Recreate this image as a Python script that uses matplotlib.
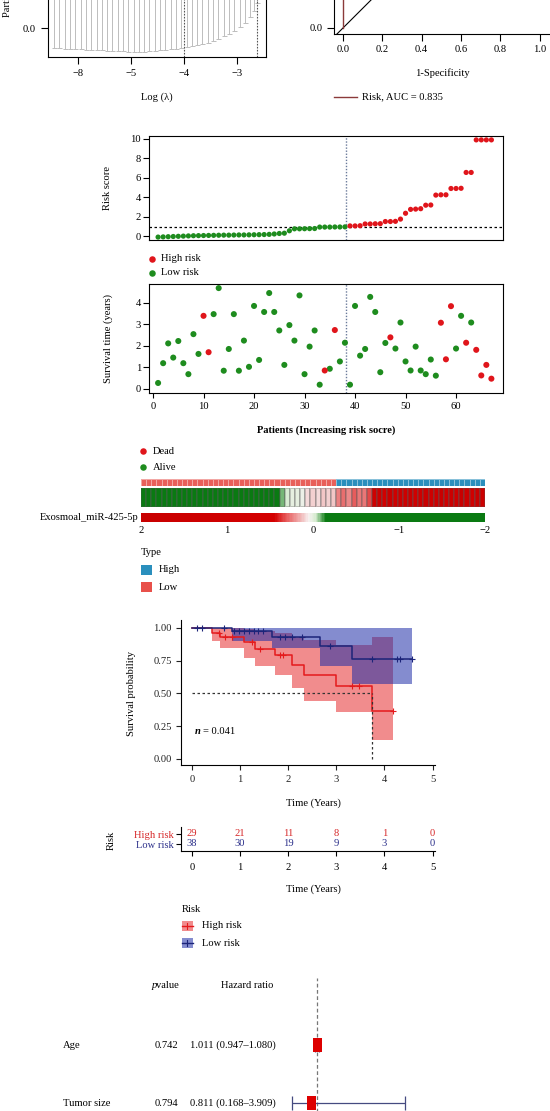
import numpy as np
import matplotlib
matplotlib.use('Agg')
import matplotlib.pyplot as plt
from matplotlib.colors import LinearSegmentedColormap, ListedColormap, Normalize
from matplotlib.cm import ScalarMappable
from matplotlib.lines import Line2D
from matplotlib.patches import Rectangle
from matplotlib.path import Path

# ---------------- DATA ----------------
lasso_loglam = [-6.45, -6.35, -6.25, -6.15, -6.05, -5.95, -5.85, -5.75, -5.65, -5.55,
                -5.45, -5.35, -5.25, -5.15, -5.05, -4.95, -4.85, -4.75, -4.65, -4.55,
                -4.45, -4.35, -4.25, -4.15, -4.05, -3.95, -3.85, -3.75, -3.65, -3.55,
                -3.45, -3.35, -3.25, -3.15, -3.05, -2.95, -2.85, -2.75, -2.68, -2.62]
cv_lower = [-0.20, -0.20, -0.205, -0.205, -0.21, -0.21, -0.215, -0.215, -0.22, -0.22,
            -0.225, -0.225, -0.23, -0.23, -0.235, -0.235, -0.237, -0.235, -0.23, -0.225,
            -0.22, -0.215, -0.21, -0.205, -0.20, -0.19, -0.18, -0.17, -0.16, -0.145,
            -0.125, -0.105, -0.08, -0.06, -0.03, 0.01, 0.05, 0.11, 0.17, 0.25]
cv_mean = [0.52, 0.52, 0.51, 0.51, 0.50, 0.50, 0.50, 0.49, 0.49, 0.49,
           0.48, 0.48, 0.48, 0.47, 0.47, 0.47, 0.47, 0.47, 0.47, 0.48,
           0.48, 0.48, 0.49, 0.49, 0.50, 0.51, 0.52, 0.53, 0.54, 0.56,
           0.58, 0.60, 0.62, 0.65, 0.68, 0.72, 0.76, 0.81, 0.86, 0.92]
cv_upper = [1.24, 1.24, 1.22, 1.22, 1.21, 1.21, 1.21, 1.20, 1.20, 1.20,
            1.19, 1.19, 1.18, 1.17, 1.17, 1.17, 1.17, 1.17, 1.17, 1.18,
            1.18, 1.18, 1.19, 1.19, 1.20, 1.21, 1.22, 1.23, 1.24, 1.26,
            1.28, 1.30, 1.32, 1.35, 1.38, 1.42, 1.46, 1.51, 1.56, 1.62]
lasso_lambda_min = -4.0
lasso_lambda_1se = -2.62
lasso_xticks = [-6, -5, -4, -3]
lasso_xtick_labels = ['\u22128', '\u22125', '\u22124', '\u22123']

roc_fpr = [0.0, 0.0, 0.03, 0.03, 0.10, 0.10, 0.30, 0.30, 1.0]
roc_tpr = [0.0, 0.45, 0.45, 0.60, 0.60, 0.80, 0.80, 1.0, 1.0]
roc_auc_label = 'Risk, AUC = 0.835'

risk_score = [-0.10, -0.08, -0.06, -0.04, -0.02, 0.0, 0.02, 0.04, 0.05, 0.06,
              0.07, 0.08, 0.09, 0.10, 0.10, 0.11, 0.12, 0.12, 0.13, 0.14,
              0.15, 0.16, 0.18, 0.22, 0.27, 0.30, 0.55, 0.75, 0.75, 0.76,
              0.77, 0.78, 0.93, 0.93, 0.93, 0.94, 0.94, 0.95,
              1.05, 1.05, 1.07, 1.25, 1.25, 1.27, 1.28, 1.50, 1.50, 1.52,
              1.75, 2.35, 2.75, 2.78, 2.82, 3.18, 3.20, 4.22, 4.25, 4.25,
              4.90, 4.90, 4.92, 6.55, 6.55, 9.90, 9.90, 9.90, 9.90]
risk_cutoff = 0.97
risk_split = 38.2

surv_time = [0.28, 1.20, 2.12, 1.46, 2.23, 1.20, 0.69, 2.55, 1.63, 3.40,
             1.71, 3.48, 4.69, 0.85, 1.86, 3.48, 0.85, 2.25, 1.03, 3.86,
             1.35, 3.58, 4.46, 3.58, 2.72, 1.12, 2.97, 2.25, 4.35, 0.69,
             1.97, 2.72, 0.20, 0.86, 0.94, 2.74, 1.28, 2.15, 0.20, 3.86,
             1.55, 1.86, 4.28, 3.58, 0.78, 2.14, 2.40, 1.88, 3.09, 1.28,
             0.86, 1.97, 0.86, 0.69, 1.37, 0.62, 3.08, 1.38, 3.85, 1.88,
             3.40, 2.15, 3.09, 1.82, 0.63, 1.12, 0.48]
surv_status = [0, 0, 0, 0, 0, 0, 0, 0, 0, 1,
               1, 0, 0, 0, 0, 0, 0, 0, 0, 0,
               0, 0, 0, 0, 0, 0, 0, 0, 0, 0,
               0, 0, 0, 1, 0, 1, 0, 0, 0, 0,
               0, 0, 0, 0, 0, 0, 1, 0, 0, 0,
               0, 0, 0, 0, 0, 0, 1, 1, 1, 0,
               0, 1, 0, 1, 1, 1, 1]
expression = [-1.6, -1.8, -1.5, -1.7, -1.9, -1.6, -1.4, -1.8, -1.7, -1.5,
              -1.6, -1.9, -1.7, -1.5, -1.8, -1.6, -1.4, -1.7, -1.6, -1.8,
              -1.5, -1.7, -1.6, -1.9, -1.5, -1.4, -1.2, -0.09,
              -0.02, 0.0, 0.01, 0.03,
              0.09, 0.10, 0.08, 0.11, 0.10, 0.12,
              0.24, 0.28, 0.22, 0.30, 0.26, 0.25, 0.33,
              1.2, 1.5, 0.9, 1.8, 1.1, 1.6, 1.3, 1.9, 1.0, 1.4, 1.7,
              1.2, 1.5, 1.8, 1.1, 1.6, 1.3, 1.9, 1.4, 1.0, 1.7, 1.5]
gene_name = 'Exosmoal_miR-425-5p'
cbar_ticks = [2, 1, 0, -1, -2]

km_high_t = [0, 0.41, 0.58, 1.07, 1.31, 1.73, 2.07, 2.32, 2.99, 3.73, 4.17]
km_high_s = [1, 0.965, 0.93, 0.89, 0.84, 0.79, 0.72, 0.64, 0.555, 0.37, 0.37]
km_high_lo = [1, 0.90, 0.85, 0.77, 0.71, 0.64, 0.54, 0.44, 0.36, 0.145, 0.145]
km_high_hi = [1, 1.0, 1.0, 0.99, 0.98, 0.96, 0.93, 0.91, 0.87, 0.93, 0.93]
km_high_cens = [0.55, 0.69, 0.82, 1.24, 1.41, 1.83, 1.90, 3.32, 3.46, 4.17]
km_low_t = [0, 0.82, 1.66, 2.66, 3.32, 4.57]
km_low_s = [1, 0.975, 0.93, 0.86, 0.765, 0.765]
km_low_lo = [1, 0.90, 0.85, 0.71, 0.57, 0.57]
km_low_hi = [1, 1, 1, 1, 1, 1]
km_low_cens = [0.10, 0.20, 0.66, 0.88, 0.98, 1.08, 1.18, 1.28, 1.38, 1.48,
               1.83, 1.93, 2.07, 2.28, 2.87, 3.73, 4.25, 4.32, 4.57]
km_high_median = 3.73
km_pvalue_text = '= 0.041'

table_times = [0, 1, 2, 3, 4, 5]
table_high = [29, 21, 11, 8, 1, 0]
table_low = [38, 30, 19, 9, 3, 0]

forest_vars = ['Age', 'Tumor size']
forest_p = ['0.742', '0.794']
forest_hr_text = ['1.011 (0.947\u20131.080)', '0.811 (0.168\u20133.909)']
forest_hr = [1.011, 0.811]
forest_lo = [0.947, 0.168]
forest_hi = [1.080, 3.909]

# ---------------- STYLE ----------------
plt.rcParams['font.family'] = ['Liberation Serif', 'DejaVu Serif']
plt.rcParams['font.size'] = 7.6
plt.rcParams['axes.linewidth'] = 0.8
plt.rcParams['xtick.major.width'] = 0.8
plt.rcParams['ytick.major.width'] = 0.8
plt.rcParams['axes.unicode_minus'] = True

RED = '#E0151B'
GREEN = '#1E8C1E'
KM_RED = '#E41A1C'
KM_BLUE = '#1C2479'

W, H = 550, 1111
fig = plt.figure(figsize=(W / 100, H / 100), dpi=100)


def add_ax(x0, y0, x1, y1):
    return fig.add_axes([x0 / W, 1 - y1 / H, (x1 - x0) / W, (y1 - y0) / H])


def ftext(x, y, s, **kw):
    return fig.text(x / W, 1 - y / H, s, **kw)


def fline(x0, y0, x1, y1, **kw):
    fig.add_artist(Line2D([x0 / W, x1 / W], [1 - y0 / H, 1 - y1 / H],
                          transform=fig.transFigure, **kw))


def frect(x0, y0, w, h, **kw):
    fig.add_artist(Rectangle((x0 / W, 1 - (y0 + h) / H), w / W, h / H,
                             transform=fig.transFigure, **kw))


def fdot(x, y, color, size=6.5):
    fig.add_artist(Line2D([x / W], [1 - y / H], marker='o', ms=size * 0.72,
                          color=color, mec='none', transform=fig.transFigure))


# ---------------- Panel 1: LASSO CV ----------------
ax1 = add_ax(48, -163, 266, 57)
lam = np.array(lasso_loglam)
lo = np.array(cv_lower)
mn = np.array(cv_mean)
up = np.array(cv_upper)
ax1.errorbar(lam, mn, yerr=[mn - lo, up - mn], fmt='o', ms=2.5, color='#bdbdbd',
             ecolor='#bdbdbd', elinewidth=0.7, capsize=1.8, capthick=0.7)
ax1.axvline(lasso_lambda_min, ls=(0, (1.5, 1.2)), color='#555555', lw=0.8)
ax1.axvline(lasso_lambda_1se, ls=(0, (1.5, 1.2)), color='#555555', lw=0.8)
ax1.set_xlim(-6.566, -2.45)
ax1.set_ylim(-0.29, 1.91)
ax1.set_xticks(lasso_xticks)
ax1.set_xticklabels(lasso_xtick_labels)
ax1.set_yticks([0])
ax1.set_yticklabels(['0.0'])
ax1.tick_params(direction='out', length=5, pad=4)
ftext(7.5, 17, 'Partial likelihood deviance', rotation=90, ha='center', va='bottom')
ftext(157, 97, 'Log (\u03bb)', ha='center', va='center')

# ---------------- Panel 2: ROC ----------------
ax2 = add_ax(334, -176, 550, 34)
ax2.axline((0, 0), slope=1, color='black', lw=0.8)
ax2.plot(roc_fpr, roc_tpr, color='#8B3A3A', lw=1.0)
ax2.set_xlim(-0.046, 1.053)
ax2.set_ylim(-0.031, 1.04)
ax2.set_xticks([0, 0.2, 0.4, 0.6, 0.8, 1.0])
ax2.set_xticklabels(['0.0', '0.2', '0.4', '0.6', '0.8', '1.0'])
ax2.set_yticks([0])
ax2.set_yticklabels(['0.0'])
ax2.spines['top'].set_visible(False)
ax2.spines['right'].set_visible(False)
ax2.tick_params(direction='out', length=5, pad=3)
ftext(442, 73, '1-Specificity', ha='center', va='center')
fline(334, 97, 357, 97, color='#8B3A3A', lw=1.0)
ftext(362, 97, roc_auc_label, ha='left', va='center')

# ---------------- Panel 3: risk score ----------------
n_pat = len(risk_score)
pat = np.arange(1, n_pat + 1)
rs = np.array(risk_score)
high = rs > risk_cutoff
ax3 = add_ax(149, 136, 503, 240)
ax3.scatter(pat[~high], rs[~high], s=14, color=GREEN, edgecolors='none', zorder=3)
ax3.scatter(pat[high], rs[high], s=14, color=RED, edgecolors='none', zorder=3)
ax3.axhline(risk_cutoff, ls=(0, (2, 2)), color='black', lw=0.9)
ax3.axvline(risk_split, ls=(0, (1, 1.2)), color='#6a7a9a', lw=1.0)
ax3.set_xlim(-0.8, 69.3)
ax3.set_ylim(-0.4, 10.3)
ax3.set_xticks([])
ax3.set_yticks([0, 2, 4, 6, 8, 10])
ax3.tick_params(direction='out', length=4.3, pad=1.5)
ftext(108, 188, 'Risk score', rotation=90, ha='center', va='center')

fdot(152, 259, RED)
ftext(161, 259, 'High risk', va='center')
fdot(152, 273, GREEN)
ftext(161, 273, 'Low risk', va='center')

# ---------------- Panel 4: survival status ----------------
st = np.array(surv_time)
dead = np.array(surv_status) == 1
ax4 = add_ax(149, 284, 503, 393)
ax4.scatter(pat[~dead], st[~dead], s=19, color=GREEN, edgecolors='none', zorder=3)
ax4.scatter(pat[dead], st[dead], s=19, color=RED, edgecolors='none', zorder=3)
ax4.axvline(risk_split, ls=(0, (1, 1.2)), color='#6a7a9a', lw=1.0)
ax4.set_xlim(-0.8, 69.3)
ax4.set_ylim(-0.186, 4.88)
ax4.set_xticks([0, 10, 20, 30, 40, 50, 60])
ax4.set_yticks([0, 1, 2, 3, 4])
ax4.tick_params(direction='out', length=4.3, pad=1.5)
ax4.tick_params(axis='x', length=3.5, pad=3)
ftext(108, 338, 'Survival time (years)', rotation=90, ha='center', va='center')
ftext(326, 430, 'Patients (Increasing risk socre)', ha='center', va='center',
      fontweight='bold')

fdot(143, 451, RED)
ftext(153, 451, 'Dead', va='center')
fdot(143, 467, GREEN)
ftext(153, 467, 'Alive', va='center')

# ---------------- Panel 5: heatmap ----------------
edges = np.arange(0.5, n_pat + 1.5)
type_vals = np.where(high, 1, 0)[None, :]
axT = add_ax(141, 479, 485, 486)
axT.pcolormesh(edges, [0, 1], type_vals, cmap=ListedColormap(['#E8605A', '#2A8FBD']),
               vmin=0, vmax=1, edgecolors=(1, 1, 1, 0.45), linewidth=0.5)
axT.set_xlim(0.5, n_pat + 0.5)
axT.axis('off')

cmap = LinearSegmentedColormap.from_list('expr', [
    (0.0, '#0A7A12'), (0.4625, '#0A7A12'), (0.4925, '#d6ecd0'),
    (0.5125, '#f7f2f2'), (0.53, '#f2c4c4'), (0.575, '#e86060'),
    (0.6125, '#d40000'), (1.0, '#c80000')])
norm = Normalize(-2, 2)
axE = add_ax(141, 488, 485, 507)
axE.pcolormesh(edges, [0, 1], np.array(expression)[None, :], cmap=cmap, norm=norm,
               edgecolors=(0.35, 0.35, 0.35, 0.3), linewidth=0.35)
axE.set_xlim(0.5, n_pat + 0.5)
axE.axis('off')

axC = add_ax(141, 513, 485, 522)
cb = fig.colorbar(ScalarMappable(norm=norm, cmap=cmap), cax=axC, orientation='horizontal')
cb.outline.set_visible(False)
axC.invert_xaxis()
cb.set_ticks(cbar_ticks)
cb.set_ticklabels(['2', '1', '0', '\u22121', '\u22122'])
axC.tick_params(length=0, pad=3)
ftext(138, 517, gene_name, ha='right', va='center')

ftext(141, 552, 'Type', ha='left', va='center')
frect(141, 565, 11, 9.5, color='#2A8FBD', lw=0)
ftext(159, 569.5, 'High', va='center')
frect(141, 582, 11, 9.5, color='#E8504A', lw=0)
ftext(159, 587, 'Low', va='center')

# ---------------- Panel 6: Kaplan-Meier ----------------
ax6 = add_ax(181, 620, 435, 765)
ax6.fill_between(km_high_t, km_high_lo, km_high_hi, step='post', color=KM_RED,
                 alpha=0.5, lw=0)
ax6.fill_between(km_low_t, km_low_lo, km_low_hi, step='post', color='#1F2EA8',
                 alpha=0.55, lw=0)
ax6.step(km_high_t, km_high_s, where='post', color=KM_RED, lw=1.1)
ax6.step(km_low_t, km_low_s, where='post', color=KM_BLUE, lw=1.1)
ht, hs = np.array(km_high_t), np.array(km_high_s)
lt, ls_ = np.array(km_low_t), np.array(km_low_s)
hc = np.array(km_high_cens)
lc = np.array(km_low_cens)
ax6.plot(hc, hs[np.searchsorted(ht, hc, side='right') - 1], '+', color=KM_RED,
         ms=4.5, mew=0.8)
ax6.plot(lc, ls_[np.searchsorted(lt, lc, side='right') - 1], '+', color=KM_BLUE,
         ms=4.5, mew=0.8)
ax6.hlines(0.5, 0, km_high_median, colors='#333333', linestyles=(0, (2, 2)), lw=0.9)
ax6.vlines(km_high_median, 0, 0.5, colors='#333333', linestyles=(0, (2, 2)), lw=0.9)
ax6.set_xlim(-0.23, 5.05)
ax6.set_ylim(-0.046, 1.061)
ax6.set_xticks([0, 1, 2, 3, 4, 5])
ax6.set_yticks([0, 0.25, 0.5, 0.75, 1.0])
ax6.set_yticklabels(['0.00', '0.25', '0.50', '0.75', '1.00'])
ax6.spines['top'].set_visible(False)
ax6.spines['right'].set_visible(False)
ax6.tick_params(direction='out', length=3.5, pad=3, colors='#222222')
ax6.tick_params(axis='x', pad=4)
ftext(132, 693, 'Survival probability', rotation=90, ha='center', va='center')
ftext(313, 803, 'Time (Years)', ha='center', va='center')
ftext(195, 732, 'n', ha='left', va='center', fontweight='bold', fontstyle='italic')
ftext(203, 732, km_pvalue_text, ha='left', va='center')

# ---------------- Risk table ----------------
ax7 = add_ax(181, 827, 435, 851)
for t, a, b in zip(table_times, table_high, table_low):
    ax7.text(t, 2, str(a), ha='center', va='center', color='#D62728')
    ax7.text(t, 1, str(b), ha='center', va='center', color='#2B2F8A')
ax7.set_xlim(-0.23, 5.05)
ax7.set_ylim(0.3, 2.7)
ax7.set_xticks(table_times)
ax7.set_yticks([2, 1])
ax7.set_yticklabels(['High risk', 'Low risk'])
ax7.get_yticklabels()[0].set_color('#D62728')
ax7.get_yticklabels()[1].set_color('#2B2F8A')
ax7.spines['top'].set_visible(False)
ax7.spines['right'].set_visible(False)
ax7.tick_params(direction='out', length=3.5, pad=2)
ax7.tick_params(axis='x', pad=5)
ftext(111, 840, 'Risk', rotation=90, ha='center', va='center')
ftext(313, 889, 'Time (Years)', ha='center', va='center')

ftext(182, 910, 'Risk', ha='left', va='center')
frect(182, 921, 10.5, 10, color=KM_RED, alpha=0.5, lw=0)
fline(182, 926, 192.5, 926, color=KM_RED, lw=1.0)
fline(187.25, 923, 187.25, 929, color=KM_RED, lw=0.8)
ftext(202, 926, 'High risk', va='center')
frect(182, 938, 10.5, 10, color='#1F2EA8', alpha=0.55, lw=0)
fline(182, 943, 192.5, 943, color=KM_BLUE, lw=1.0)
fline(187.25, 940, 187.25, 946, color=KM_BLUE, lw=0.8)
ftext(202, 943, 'Low risk', va='center')

# ---------------- Forest ----------------
ax8 = add_ax(280, 978, 540, 1140)
rows = [2, 1]
hr = np.array(forest_hr)
ax8.axvline(1, ls=(0, (3, 2)), color='#777777', lw=0.9)
ax8.errorbar(hr, rows, xerr=[hr - np.array(forest_lo), np.array(forest_hi) - hr],
             fmt='none', ecolor='#454a80', elinewidth=0.9, capsize=4.7, capthick=0.9)
rect_marker = Path([(-0.33, -0.5), (0.33, -0.5), (0.33, 0.5), (-0.33, 0.5), (-0.33, -0.5)],
                   [Path.MOVETO, Path.LINETO, Path.LINETO, Path.LINETO, Path.CLOSEPOLY])
ax8.scatter(hr, rows, marker=rect_marker, s=100, color='#DD0000', edgecolors='none',
            zorder=3)
ax8.set_xlim(-0.221, 8.36)
ax8.set_ylim(0.362, 3.155)
ax8.axis('off')

ftext(152, 985, 'p', ha='left', va='center', fontstyle='italic')
ftext(156.5, 985, 'value', ha='left', va='center')
ftext(273, 985, 'Hazard ratio', ha='right', va='center')
row_y = [1045, 1103]
for v, p, t, y in zip(forest_vars, forest_p, forest_hr_text, row_y):
    ftext(63, y, v, ha='left', va='center')
    ftext(178, y, p, ha='right', va='center')
    ftext(276, y, t, ha='right', va='center')

fig.savefig('out.png', dpi=100)
